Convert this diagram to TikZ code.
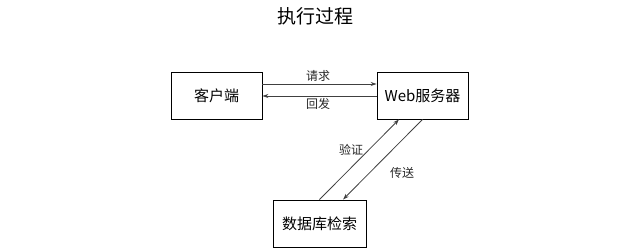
\documentclass[tikz,border=0pt]{standalone}
\usepackage{fontspec}
\newfontfamily\cjk{Noto Sans CJK SC}
\usetikzlibrary{arrows.meta}
\begin{document}
\begin{tikzpicture}[x=1pt,y=-1pt,
  box/.style={draw=black,line width=0.9pt,minimum width=91pt,minimum height=47pt,inner sep=0pt,font=\cjk\fontsize{15}{15}\selectfont},
  conn/.style={draw=black!75,line width=0.8pt,-{Stealth[length=6pt,width=4pt]}},
  lbl/.style={font=\cjk\fontsize{12}{12}\selectfont,text=black!85,inner sep=0pt}]
\useasboundingbox (0,0) rectangle (624,251);
\node[font=\cjk\fontsize{19}{19}\selectfont,inner sep=0pt] (title) at (315,16) {执行过程};
\node[box] (client) at (216.5,95.5) {客户端};
\node[box] (server) at (422.5,95.5) {Web服务器};
\node[box,minimum width=93pt] (db) at (319.5,223.5) {数据库检索};
\draw[conn] ([yshift=11.5pt]client.east) -- ([yshift=11.5pt]server.west);
\draw[conn] ([yshift=-0.5pt]server.west) -- ([yshift=-0.5pt]client.east);
\draw[conn] (db.north) -- ([xshift=-23.5pt]server.south);
\draw[conn] (server.south) -- ([xshift=23.5pt]db.north);
\node[lbl] (l1) at (318,76) {请求};
\node[lbl] (l2) at (318,104) {回发};
\node[lbl] (l3) at (351,150) {验证};
\node[lbl] (l4) at (402,173) {传送};
\end{tikzpicture}
\end{document}
